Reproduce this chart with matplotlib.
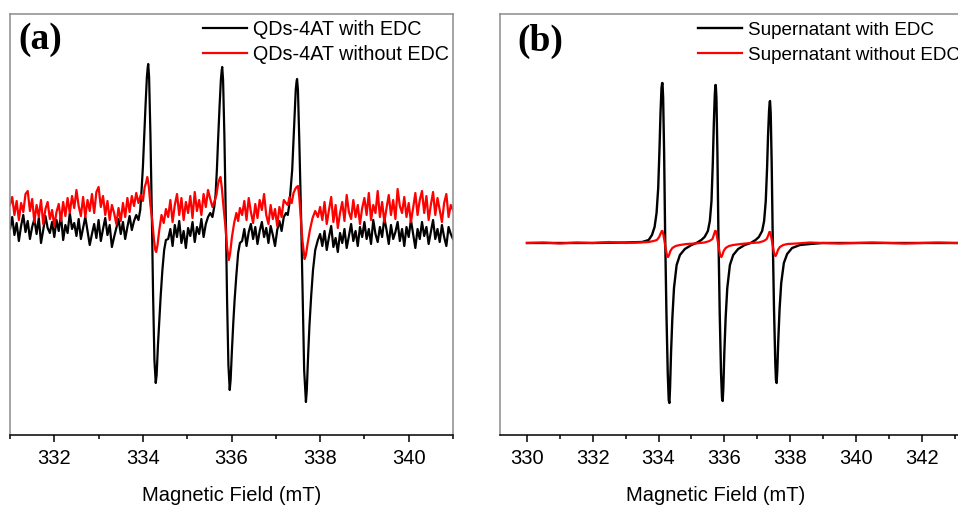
import matplotlib
matplotlib.use("Agg")
import matplotlib.pyplot as plt
import numpy as np
from matplotlib.ticker import MultipleLocator

plt.rcParams['font.family'] = ['Liberation Sans', 'DejaVu Sans']

# ---------------- panel (a) : QDs-4AT, noisy spectra ----------------
# baseline stretches between the lines (a.u.), sampled evenly over each span
a_spans = [(331.0, 333.85), (334.57, 335.52), (336.24, 337.23), (338.0, 341.0)]

a_black_noise = [
    [-4, 8, -10, 2, -16, -1, 10, -7, 4, -14, -2, 6, -9, 7, -18, -5, 9, -3, -8, 3,
     -12, 5, -6, 10, -15, 0, -8, 12, -4, 2, -11, 6, -14, -3, 8, -6, -20, -9, 1, -13,
     5, -16, -4, 7, -10, 0, -22, -12, -3, 6, -9, 3, -14, -2, 9, -5, 4, 10],
    [-14, -4, -21, 0, -12, 4, -18, -6, -23, -3, -11, 3, -17, -2, -9, 6, -12, 1, 8, 12],
    [-16, -4, -21, -7, 1, -14, -2, -19, -6, 3, -12, -3, -18, -1, -10, -21, -5, 4, -6, 8, 12],
    [-9, -21, -6, -25, -12, -1, -22, -13, -27, -8, -18, -4, -23, -11, 1, -16, -6, -21, -2, -12,
     3, -14, -4, -19, 5, -9, -17, -2, -12, 7, -5, -19, 0, -14, -7, 3, -16, -4, -21, -2,
     -12, 5, -9, -23, -4, -14, 3, -11, -2, -19, -7, 5, -14, -4, -17, 0, -12, -21, -2, -9, -14],
]
a_red_noise = [
    [20, 28, 10, 24, 5, 22, 13, 31, 34, 14, 26, 3, 20, 8, 25, 1, 16, 23, 6, 15,
     -1, 13, 21, 4, 23, 9, 27, 12, 29, 17, 35, 19, 9, 28, 8, 25, 14, 31, 12, 33,
     38, 18, 29, 10, 24, 5, 20, 12, 1, 17, 4, 22, 8, 27, 13, 29, 19, 32],
    [8, 25, 3, 20, 31, 10, 27, 5, 23, 12, 29, 7, 33, 14, 25, 10, 31, 18, 35, 26],
    [10, 24, 5, 27, 13, 2, 21, 7, 25, 15, 31, 10, 1, 20, 6, 16, -1, 18, 8, 25, 22],
    [18, 5, 23, 1, 15, 28, 3, 20, -3, 12, 23, 4, 30, 13, 6, 25, 8, 20, 1, 17,
     27, 10, 32, 5, 20, 12, 34, 8, 23, 3, 17, 30, 10, 25, 6, 36, 19, 12, 28, 8,
     22, 3, 17, 32, 10, 25, 34, 12, 29, 5, 20, 33, 10, 27, 15, 3, 22, 31, 8, 20, 15],
]

# the three hyperfine lines, read point by point
a_black_peak_x = [
    [333.90, 333.94, 333.97, 334.00, 334.03, 334.06, 334.09, 334.11, 334.12, 334.14, 334.17,
     334.20, 334.23, 334.26, 334.29, 334.31, 334.34, 334.37, 334.40, 334.44, 334.48, 334.52],
    [335.57, 335.61, 335.64, 335.67, 335.70, 335.73, 335.76, 335.78, 335.79, 335.81, 335.84,
     335.87, 335.90, 335.93, 335.96, 335.98, 336.01, 336.04, 336.07, 336.11, 336.15, 336.19],
    [337.27, 337.31, 337.34, 337.37, 337.40, 337.43, 337.45, 337.47, 337.48, 337.50, 337.53,
     337.57, 337.61, 337.64, 337.68, 337.70, 337.73, 337.76, 337.80, 337.84, 337.89, 337.95],
]
a_black_peak_y = [
    [5, 15, 35, 58, 90, 120, 148, 158, 161, 148, 90, 15, -70, -135, -158, -150, -120, -95, -72, -45, -25, -15],
    [8, 18, 30, 55, 88, 118, 145, 155, 158, 145, 88, 12, -75, -140, -165, -155, -125, -98, -75, -50, -28, -18],
    [10, 22, 38, 55, 85, 115, 135, 144, 146, 135, 85, 10, -80, -145, -177, -165, -130, -100, -70, -45, -25, -15],
]
a_red_peak_x = [
    [333.90, 333.95, 334.00, 334.04, 334.07, 334.10, 334.13, 334.17, 334.21, 334.25, 334.28,
     334.30, 334.33, 334.37, 334.42, 334.47, 334.52],
    [335.57, 335.62, 335.66, 335.70, 335.73, 335.75, 335.78, 335.82, 335.86, 335.90, 335.94,
     335.97, 336.01, 336.06, 336.11, 336.15, 336.19],
    [337.27, 337.31, 337.36, 337.40, 337.44, 337.47, 337.50, 337.53, 337.56, 337.60, 337.65,
     337.68, 337.72, 337.77, 337.83, 337.89, 337.95],
]
a_red_peak_y = [
    [22, 30, 24, 38, 42, 48, 40, 20, 5, -15, -25, -27, -20, -5, 10, 2, 16],
    [18, 24, 30, 42, 46, 48, 38, 18, 0, -22, -35, -28, -12, 2, 12, 4, 17],
    [20, 28, 22, 32, 36, 38, 39, 28, 10, -15, -34, -30, -18, -5, 7, 14, 8],
]

# ---------------- panel (b) : supernatant, smooth spectra ----------------
b_black_x = [330.0, 331.0, 332.0, 333.0, 333.5, 333.7, 333.8, 333.88, 333.94, 333.99, 334.03, 334.06,
             334.09, 334.11, 334.12, 334.14, 334.17, 334.20, 334.24, 334.28, 334.31, 334.33, 334.35,
             334.38, 334.42, 334.47, 334.55, 334.65, 334.80, 335.00, 335.15, 335.30, 335.40, 335.50,
             335.56, 335.61, 335.65, 335.68, 335.71, 335.73, 335.74, 335.76, 335.79, 335.82, 335.86,
             335.90, 335.93, 335.95, 335.97, 336.00, 336.04, 336.09, 336.17, 336.27, 336.42, 336.62,
             336.80, 336.95, 337.05, 337.15, 337.21, 337.26, 337.30, 337.33, 337.36, 337.38, 337.39,
             337.41, 337.44, 337.47, 337.51, 337.55, 337.57, 337.59, 337.61, 337.64, 337.68, 337.73,
             337.81, 337.91, 338.06, 338.3, 338.6, 339.0, 340.0, 341.0, 342.0, 343.5]
b_black_y = [0, 0, 0, 0.5, 1, 3, 8, 16, 30, 55, 95, 130,
             155, 160, 160, 145, 90, 10, -70, -130, -157, -160, -145,
             -110, -75, -45, -22, -12, -6, -2, 0, 3, 6, 12,
             22, 42, 80, 118, 148, 158, 158, 145, 90, 10, -70,
             -130, -155, -158, -145, -110, -75, -45, -22, -12, -6, -2,
             0, 3, 6, 12, 22, 42, 75, 108, 132, 141, 142,
             130, 80, 10, -65, -120, -137, -140, -128, -98, -66, -40,
             -20, -11, -5, -2, -1, 0, 0, 0, 0, 0]

b_red_x = [330.0, 330.5, 331.0, 331.5, 332.0, 332.5, 333.0, 333.4, 333.7, 333.85, 333.95, 334.02,
           334.07, 334.10, 334.12, 334.15, 334.19, 334.23, 334.26, 334.29, 334.32, 334.36, 334.42,
           334.52, 334.65, 334.85, 335.1, 335.4, 335.55, 335.64, 335.69, 335.72, 335.74, 335.77,
           335.81, 335.85, 335.88, 335.91, 335.94, 335.98, 336.04, 336.14, 336.27, 336.5, 336.8,
           337.05, 337.2, 337.29, 337.34, 337.37, 337.39, 337.42, 337.46, 337.50, 337.53, 337.56,
           337.59, 337.63, 337.69, 337.79, 337.92, 338.2, 338.6, 339.0, 339.5, 340.0, 340.5,
           341.0, 341.5, 342.0, 342.5, 343.0, 343.5]
b_red_y = [0, 0.5, -0.5, 0.5, 0, 1, 0, 0.5, 1, 2, 3, 6,
           10, 12, 12, 8, 0, -8, -13, -14, -12, -8, -5,
           -3, -2, -1, -0.5, 0.5, 2, 4, 9, 12, 12, 8,
           0, -8, -13, -14, -12, -8, -5, -3, -2, -1, 0,
           0.5, 2, 4, 8, 11, 11, 7, 0, -8, -12, -13,
           -11, -7, -4, -2, -1, -0.5, 0.5, 0, -0.5, 0, 0.5,
           0, -0.5, 0, 0.5, 0, 0]

labels_a = ["QDs-4AT with EDC", "QDs-4AT without EDC"]
labels_b = ["Supernatant with EDC", "Supernatant without EDC"]


def join_trace(noise, spans, px, py):
    xs, ys = [], []
    for i in range(len(noise)):
        xs.append(np.linspace(spans[i][0], spans[i][1], len(noise[i])))
        ys.append(np.array(noise[i], dtype=float))
        if i < len(px):
            xs.append(np.array(px[i]))
            ys.append(np.array(py[i], dtype=float))
    return np.concatenate(xs), np.concatenate(ys)


def style_axes(ax):
    for side in ['left', 'top', 'right']:
        ax.spines[side].set_color('#8c8c8c')
        ax.spines[side].set_linewidth(1.1)
    ax.spines['bottom'].set_color('black')
    ax.spines['bottom'].set_linewidth(1.1)
    ax.set_yticks([])
    ax.xaxis.set_major_locator(MultipleLocator(2))
    ax.xaxis.set_minor_locator(MultipleLocator(1))
    ax.tick_params(axis='x', which='major', direction='out', length=5, width=1.1, labelsize=14.5, pad=5)
    ax.tick_params(axis='x', which='minor', direction='out', length=2.6, width=1.1)
    ax.set_xlabel("Magnetic Field (mT)", fontsize=14.5)


fig = plt.figure(figsize=(9.58, 5.05), dpi=100)

# (a)
ax1 = fig.add_axes([10/958, 70/505, 443/958, 421/505])
xk, yk = join_trace(a_black_noise, a_spans, a_black_peak_x, a_black_peak_y)
xr, yr = join_trace(a_red_noise, a_spans, a_red_peak_x, a_red_peak_y)
ax1.plot(xk, yk, color='black', lw=1.6, label=labels_a[0])
ax1.plot(xr, yr, color='#ff0000', lw=1.6, label=labels_a[1])
ax1.set_xlim(331, 341)
ax1.set_ylim(-210, 211)
style_axes(ax1)
ax1.xaxis.set_label_coords(0.5, -0.12)
ax1.legend(loc='upper left', bbox_to_anchor=(0.4357, 0.985), frameon=False, fontsize=14.2,
           borderpad=0, borderaxespad=0, handlelength=2.23, handletextpad=0.3, labelspacing=0.3)
ax1.text(0.018, 0.94, "(a)", transform=ax1.transAxes, fontsize=27, fontweight='bold',
         family='Liberation Serif', va='center', ha='left')

# (b)
ax2 = fig.add_axes([500/958, 70/505, 471/958, 421/505])
ax2.plot(b_black_x, b_black_y, color='black', lw=1.7, label=labels_b[0])
ax2.plot(b_red_x, b_red_y, color='#ff0000', lw=1.6, label=labels_b[1])
ax2.set_xlim(329.18, 343.5)
ax2.set_ylim(-192, 229)
style_axes(ax2)
ax2.xaxis.set_label_coords(0.4586, -0.12)
ax2.legend(loc='upper left', bbox_to_anchor=(0.42, 0.982), frameon=False, fontsize=13.6,
           borderpad=0, borderaxespad=0, handlelength=2.33, handletextpad=0.32, labelspacing=0.42)
ax2.text(0.036, 0.935, "(b)", transform=ax2.transAxes, fontsize=27, fontweight='bold',
         family='Liberation Serif', va='center', ha='left')

fig.savefig("out.png", dpi=100)
